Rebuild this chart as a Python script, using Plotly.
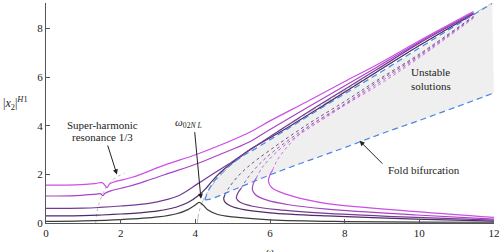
import plotly.graph_objects as go

# ---------------- data ----------------
# curve 1 (lowest forcing, no fold)
w1 = [0, 1, 2, 3, 3.5, 3.8, 4.0, 4.1, 4.2, 4.35, 4.6, 5, 6, 8, 10, 12]
a1 = [0.07, 0.09, 0.14, 0.25, 0.38, 0.55, 0.74, 0.85, 0.75, 0.52, 0.35, 0.25, 0.13, 0.06, 0.04, 0.03]

# curve 2
w2u = [0, 1, 1.5, 2, 2.5, 3, 3.5, 3.8, 4.1, 4.3, 4.55, 4.8, 5.1, 5.5, 6.5, 7.5, 8.85, 10, 11.45]
a2u = [0.29, 0.3, 0.33, 0.37, 0.42, 0.5, 0.66, 0.84, 1.15, 1.45, 1.9, 2.25, 2.6, 3.05, 3.95, 4.9, 6.2, 7.3, 8.6]
w2d = [4.79, 4.9, 5.1, 5.4, 6, 7, 8, 8.85, 10, 11.45]
a2d = [1.15, 1.45, 1.85, 2.3, 3.0, 4.05, 5.0, 5.85, 6.95, 8.5]
w2r = [4.79, 4.76, 4.8, 4.95, 5.3, 6, 7.53, 9.92, 12]
a2r = [1.15, 1.0, 0.85, 0.7, 0.55, 0.42, 0.29, 0.16, 0.08]

# curve 3
w3u = [0, 1, 1.43, 2, 2.76, 3.2, 3.55, 4.08, 4.5, 4.97, 5.4, 6, 7, 8.85, 10, 11.45]
a3u = [0.6, 0.61, 0.64, 0.7, 0.81, 0.95, 1.12, 1.63, 2.05, 2.5, 2.95, 3.55, 4.55, 6.3, 7.4, 8.63]
w3d = [5.23, 5.4, 5.7, 6.1, 7, 8, 8.85, 10, 11.45]
a3d = [1.43, 1.85, 2.4, 2.95, 3.95, 4.9, 5.78, 6.9, 8.48]
w3r = [5.23, 5.13, 5.1, 5.2, 5.5, 6.2, 7.53, 9.92, 12]
a3r = [1.43, 1.2, 1.02, 0.85, 0.7, 0.55, 0.4, 0.23, 0.12]

# curve 4
w4u = [0, 0.8, 1.34, 1.47, 1.52, 1.58, 1.75, 2.2, 2.76, 3.3, 4.08, 4.7, 5.4, 6, 7, 8.85, 10, 11.45]
a4u = [1.11, 1.13, 1.19, 1.2, 1.12, 1.22, 1.33, 1.5, 1.77, 2.05, 2.46, 2.85, 3.3, 3.85, 4.75, 6.4, 7.45, 8.66]
w4d = [5.63, 5.8, 6.2, 6.7, 7.5, 8.85, 10, 11.45]
a4d = [1.84, 2.3, 2.95, 3.55, 4.35, 5.7, 6.85, 8.45]
w4r = [5.63, 5.55, 5.53, 5.62, 5.9, 6.5, 7.53, 9.92, 12]
a4r = [1.84, 1.6, 1.36, 1.15, 0.95, 0.75, 0.57, 0.33, 0.16]

# curve 5 (highest forcing)
w5u = [0, 0.8, 1.3, 1.5, 1.58, 1.63, 1.7, 1.85, 2.31, 3.19, 4.08, 5.4, 6, 7, 8, 8.85, 10, 11.45]
a5u = [1.56, 1.57, 1.62, 1.66, 1.55, 1.45, 1.6, 1.7, 1.88, 2.39, 2.85, 3.69, 4.2, 5.0, 5.82, 6.5, 7.5, 8.7]
w5d = [6.07, 6.2, 6.5, 6.9, 7.5, 8.85, 10, 11.45]
a5d = [2.18, 2.6, 3.2, 3.8, 4.4, 5.62, 6.8, 8.42]
w5r = [6.07, 5.99, 5.96, 6.05, 6.4, 7, 7.53, 9.92, 12]
a5r = [2.18, 1.95, 1.7, 1.45, 1.2, 0.95, 0.8, 0.47, 0.23]

# fold bifurcation curves
wf_up = [4.26, 4.3, 4.43, 4.69, 5.0, 5.31, 5.6, 6.5, 7.5, 8.85, 10, 11, 11.95]
af_up = [0.95, 1.15, 1.56, 2.05, 2.46, 2.8, 3.05, 3.9, 4.85, 6.1, 7.2, 8.15, 9.03]
wf_lo = [4.26, 4.4, 5, 6, 7, 8, 9, 10, 11, 12]
af_lo = [0.95, 0.98, 1.35, 1.98, 2.55, 3.1, 3.68, 4.22, 4.78, 5.35]

# backbone and super-harmonic locus
wbb = [4.05, 4.1, 4.18, 4.3, 4.5, 4.8, 5.3, 6, 7, 8, 9, 10, 11, 11.9]
abb = [0, 0.45, 0.85, 1.2, 1.65, 2.15, 2.85, 3.55, 4.5, 5.45, 6.35, 7.3, 8.2, 9.0]
wsh = [1.33, 1.36, 1.42, 1.52, 1.65, 1.85, 2.1]
ash = [0, 0.4, 0.8, 1.2, 1.55, 1.85, 2.05]

xticks = [0, 2, 4, 6, 8, 10, 12]
yticks = [0, 2, 4, 6, 8]

colors = ["#3c3c3c", "#4e2c66", "#763a96", "#a844c4", "#cc4ee6"]

# ---------------- figure ----------------
fig = go.Figure()

# shaded unstable region
fig.add_trace(go.Scatter(x=wf_up + wf_lo[::-1], y=af_up + af_lo[::-1], fill="toself",
                         fillcolor="#efefef", line=dict(width=0), mode="lines",
                         hoverinfo="skip", showlegend=False))

# backbone & super-harmonic locus
fig.add_trace(go.Scatter(x=wbb, y=abb, mode="lines", line=dict(color="#aaaaaa", width=0.8, dash="dashdot", shape="spline"), showlegend=False))
fig.add_trace(go.Scatter(x=wsh, y=ash, mode="lines", line=dict(color="#aaaaaa", width=0.8, dash="dot", shape="spline"), showlegend=False))

curves = [
    (w2u, a2u, w2d, a2d, w2r, a2r),
    (w3u, a3u, w3d, a3d, w3r, a3r),
    (w4u, a4u, w4d, a4d, w4r, a4r),
    (w5u, a5u, w5d, a5d, w5r, a5r),
]

fig.add_trace(go.Scatter(x=w1, y=a1, mode="lines", line=dict(color=colors[0], width=1.2, shape="spline"), showlegend=False))
for c, (wu, au, wd, ad, wr, ar) in zip(colors[1:], curves):
    fig.add_trace(go.Scatter(x=wu, y=au, mode="lines", line=dict(color=c, width=1.2, shape="spline"), showlegend=False))
    fig.add_trace(go.Scatter(x=wd, y=ad, mode="lines", line=dict(color=c, width=0.8, dash="dot", shape="spline"), showlegend=False))
    fig.add_trace(go.Scatter(x=wr, y=ar, mode="lines", line=dict(color=c, width=1.2, shape="spline"), showlegend=False))

# fold curves
for wf, af in [(wf_up, af_up), (wf_lo, af_lo)]:
    fig.add_trace(go.Scatter(x=wf, y=af, mode="lines",
                             line=dict(color="#4a86e0", width=1.2, dash="6px,4px", shape="spline"),
                             showlegend=False))

serif = "Liberation Serif"
ann_font = dict(family=serif, size=11, color="#222")

fig.add_annotation(x=10.3, y=6.22, text="Unstable", showarrow=False, font=ann_font, xref="x", yref="y")
fig.add_annotation(x=10.3, y=5.65, text="solutions", showarrow=False, font=ann_font, xref="x", yref="y")
fig.add_annotation(x=8.4, y=3.38, ax=9.05, ay=2.38, xref="x", yref="y", axref="x", ayref="y",
                   text="", showarrow=True, arrowhead=2, arrowsize=1, arrowwidth=1, arrowcolor="#222")
fig.add_annotation(x=9.1, y=2.2, text="Fold bifurcation", showarrow=False, font=ann_font, xanchor="left", xref="x", yref="y")
fig.add_annotation(x=1.52, y=4.03, text="Super-harmonic", showarrow=False, font=ann_font, xref="x", yref="y")
fig.add_annotation(x=1.52, y=3.52, text="resonance 1/3", showarrow=False, font=ann_font, xref="x", yref="y")
fig.add_annotation(x=1.9, y=2.0, ax=1.64, ay=3.25, xref="x", yref="y", axref="x", ayref="y",
                   text="", showarrow=True, arrowhead=2, arrowsize=1, arrowwidth=1, arrowcolor="#222")
fig.add_annotation(x=3.82, y=4.12, text="<i>ω</i><sub>02</sub><i><sub>N L</sub></i>", showarrow=False, font=ann_font, xref="x", yref="y")
fig.add_annotation(x=4.15, y=1.0, ax=3.98, ay=3.8, xref="x", yref="y", axref="x", ayref="y",
                   text="", showarrow=True, arrowhead=2, arrowsize=1, arrowwidth=1, arrowcolor="#222")

# axis titles
fig.add_annotation(x=-0.1, xref="paper", y=(223 - 103) / 220, yref="paper", xanchor="left",
                   text="|<i>x</i><sub>2</sub>|<sup><i>H</i>1</sup>", showarrow=False,
                   font=dict(family=serif, size=12, color="#222"))
fig.add_annotation(x=6, xref="x", y=-0.09, yref="paper", yanchor="top", text="<i>ω</i>",
                   showarrow=False, font=dict(family=serif, size=11, color="#222"))

axis_common = dict(showgrid=False, zeroline=False, showline=True, linecolor="#555", linewidth=1,
                   ticks="inside", ticklen=4, tickcolor="#555", tickwidth=1,
                   tickfont=dict(family=serif, size=11, color="#222"), mirror=False,
                   ticklabeloverflow="allow")
fig.update_xaxes(range=[0, 12], tickvals=xticks, **axis_common)
fig.update_yaxes(range=[0, 9.05], tickvals=yticks, **axis_common)

fig.update_layout(width=503, height=252, margin=dict(l=46, r=5, t=3, b=29),
                  plot_bgcolor="white", paper_bgcolor="white", showlegend=False)

fig.write_html("out.html")
